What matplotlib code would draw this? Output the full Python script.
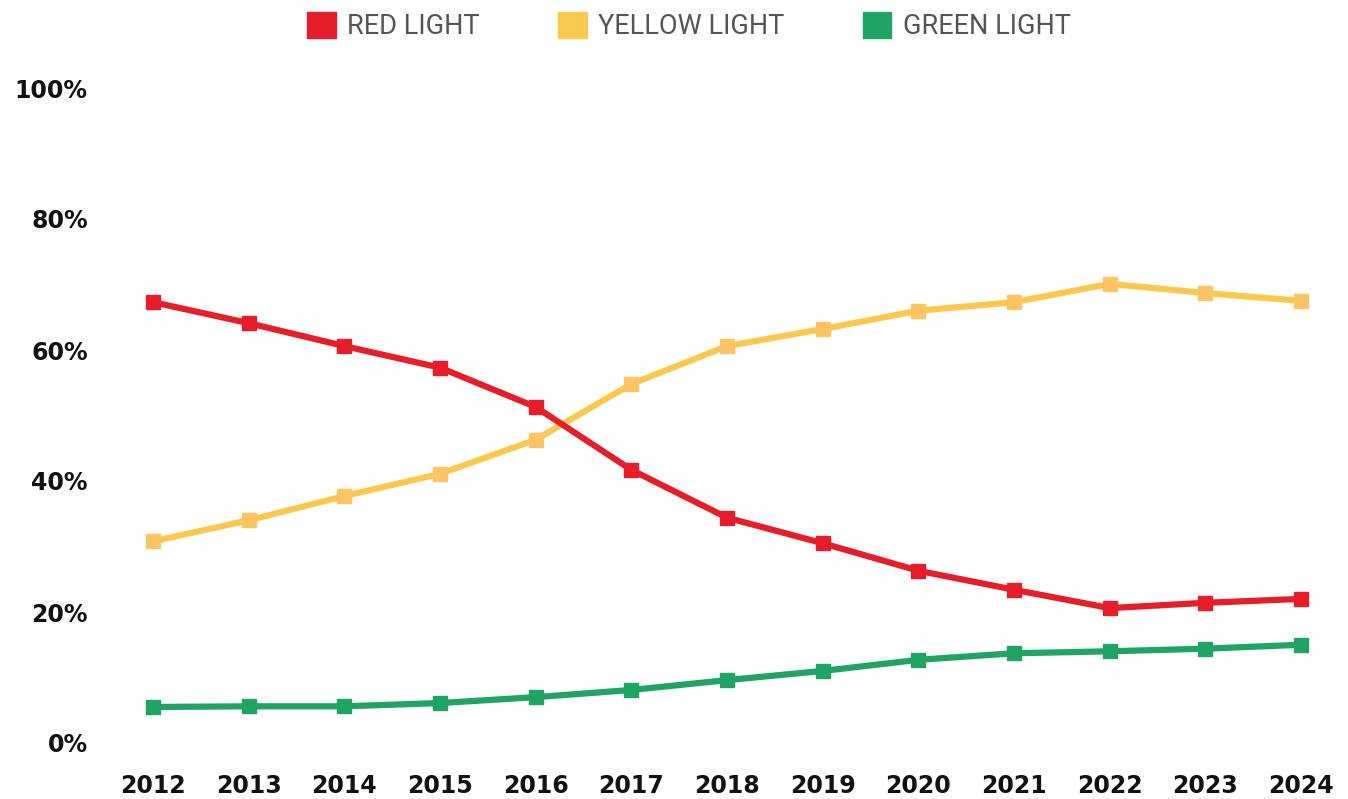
import matplotlib.pyplot as plt
from matplotlib.patches import Patch

years = list(range(2012, 2025))
red = [67.3, 64.1, 60.6, 57.3, 51.3, 41.7, 34.4, 30.5, 26.3, 23.4, 20.6, 21.4, 22.0]
yellow = [30.8, 34.0, 37.7, 41.1, 46.3, 54.8, 60.6, 63.2, 66.0, 67.3, 70.1, 68.7, 67.5]
green = [5.5, 5.6, 5.6, 6.1, 7.0, 8.1, 9.6, 11.0, 12.7, 13.7, 14.0, 14.4, 15.0]
labels = ["RED LIGHT", "YELLOW LIGHT", "GREEN LIGHT"]

c_red = "#E61E2A"
c_yel = "#FAC84F"
c_yel_m = "#FCC462"
c_grn = "#1FA463"

fig = plt.figure(figsize=(13.48, 7.99), dpi=100)
ax = fig.add_axes([110 / 1348, 56 / 799, 1235 / 1348, 655 / 799])

for vals, lc, mc in [(green, c_grn, c_grn), (yellow, c_yel, c_yel_m), (red, c_red, c_red)]:
    ax.plot(years, vals, color=lc, lw=4.5, marker="s", markersize=10.5,
            markerfacecolor=mc, markeredgecolor=mc, clip_on=False)

ax.set_xlim(2011.55, 2024.46)
ax.set_ylim(0, 100)
ax.set_yticks(range(0, 101, 20))
ax.set_yticklabels([f"{v}%" for v in range(0, 101, 20)])
ax.set_xticks(years)
ax.set_xticklabels([str(y) for y in years])
for s in ax.spines.values():
    s.set_visible(False)
ax.tick_params(length=0)
ax.tick_params(axis="y", pad=16)
ax.tick_params(axis="x", pad=22)
for t in ax.get_xticklabels() + ax.get_yticklabels():
    t.set_fontweight("bold")
    t.set_fontsize(17)
    t.set_color("#111111")

handles = [Patch(color=c) for c in (c_red, c_yel, c_grn)]
leg = fig.legend(handles, labels, ncol=3, loc="upper center",
                 bbox_to_anchor=(0.511, 0.998), frameon=False,
                 prop={"family": "Roboto", "size": 19.5},
                 handlelength=1.05, handleheight=1.05, handletextpad=0.42,
                 columnspacing=2.9, borderaxespad=0)
for t in leg.get_texts():
    t.set_color("#555555")

fig.savefig("out.png", dpi=100)
